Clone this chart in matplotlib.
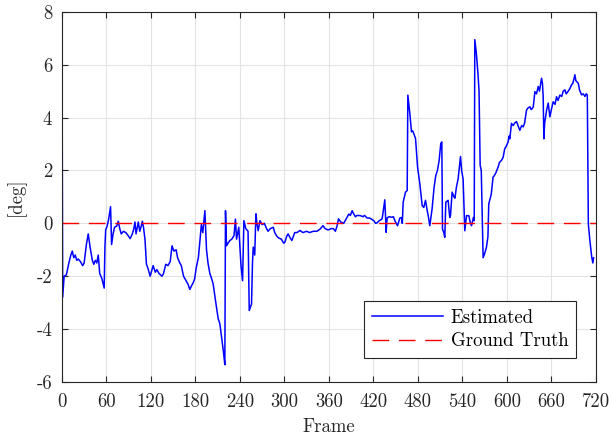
import matplotlib
matplotlib.use("Agg")
import matplotlib.pyplot as plt
import numpy as np

plt.rcParams['font.family'] = 'serif'
plt.rcParams['font.serif'] = ['cmr10', 'DejaVu Serif']
plt.rcParams['mathtext.fontset'] = 'cm'
plt.rcParams['axes.unicode_minus'] = False
plt.rcParams['font.size'] = 13.5

# estimated heading
frames = [0, 1, 3, 6, 9, 12, 14, 16, 18, 20, 22, 25, 28, 30, 33, 35.5, 38, 41, 43, 45, 47, 49, 51, 54, 57,
          58, 59, 61, 63, 65.6, 67, 69, 71, 74, 76, 78, 80, 83, 86, 89, 92, 95, 97, 98.5, 100, 102, 103, 105,
          107, 108.5, 110, 112, 114, 116, 119, 121, 123, 126, 128, 131, 135, 137, 140, 143, 146, 148.5, 151,
          154, 156, 159, 161, 164, 167, 170, 172.5, 175, 177, 179, 181, 184, 186, 188, 190, 192.8, 194, 195,
          197, 199.5, 202, 204, 207, 210.7, 213, 215.3, 218, 219.7, 220.6, 222, 224, 226.5, 229, 232, 234,
          235.5, 238.5, 240, 241.5, 243.6, 245.4, 248, 251, 252.6, 255.7, 257, 258, 260, 261.6, 263, 264.7,
          267, 270, 273, 276, 278, 281, 285, 287, 289.4, 292, 296, 299, 300.6, 303, 305, 307.4, 310, 314,
          317, 321, 325, 330, 334, 339, 344, 348, 352, 355, 359, 363, 366, 368.8, 371, 373, 376, 380, 383,
          386.9, 389, 391.4, 393, 395.8, 398, 402.6, 406, 408, 411.6, 415, 418, 420.6, 423, 425, 428, 431.8,
          433, 435.4, 436.5, 437.2, 438.5, 441, 445, 447, 449, 452.6, 455.7, 458, 459, 460.2, 463.3, 465.6,
          466.5, 469.2, 471.4, 473, 474.6, 476.9, 479.6, 482.7, 485.8, 488, 490.3, 492.5, 494.5, 496.1,
          499.2, 501.9, 504.2, 506.4, 508.7, 510.9, 512.3, 513.2, 515, 516.3, 517.7, 520.8, 523, 524, 526.2,
          528.9, 530, 532, 534.3, 537.5, 539, 541, 543.3, 545.6, 548.7, 550.5, 552.3, 555, 556, 556.8, 559,
          561.2, 562.5, 564, 565.5, 568, 570, 572.5, 574.5, 575.6, 578, 579, 581.4, 583, 585, 588.2, 590,
          592.7, 595, 597.2, 599, 601.7, 603, 604, 606.2, 608.5, 610.7, 613, 615, 617.5, 620, 622, 624,
          626.5, 628, 631, 633, 635.6, 637.8, 640, 642.3, 644, 646.8, 648, 649, 649.9, 651, 653.6, 655.8,
          658, 660, 662.5, 665, 667, 669, 671.5, 674, 676, 678.3, 680, 682.8, 685, 687.3, 689, 691.8, 693,
          696.3, 698, 700.8, 703, 705.3, 707, 708.5, 709.9, 712, 714.5, 716, 717]
estimated = [8.0, -2.8, -2.0, -1.95, -1.55, -1.2, -1.05, -1.3, -1.2, -1.4, -1.35, -1.45, -1.6, -1.5, -0.8,
             -0.4, -0.9, -1.4, -1.55, -1.4, -1.5, -1.2, -1.9, -2.1, -2.45,
             -0.9, -0.25, -0.1, 0.15, 0.63, -0.8, -0.4, -0.15, -0.1, 0.08, -0.2, -0.4, -0.3, -0.35, -0.45,
             -0.58, -0.4, -0.2, 0.05, -0.4, -0.1, 0.05, -0.3,
             -0.1, 0.08, -0.15, -0.6, -1.55, -1.7, -2.0, -1.8, -1.6, -1.85, -1.75, -1.9, -2.0, -1.9, -1.55,
             -1.6, -1.45, -0.85, -1.05,
             -1.0, -1.3, -1.5, -1.6, -2.0, -2.15, -2.3, -2.5, -2.35, -2.25, -2.1, -1.7, -1.3, -0.7, -0.05,
             -0.35, 0.48, -0.3, -1.0,
             -1.5, -1.9, -2.1, -2.3, -2.9, -3.6, -3.8, -4.3, -4.9, -5.35, 0.48, -0.85, -0.75, -0.65, -0.6,
             -0.47, 0.16,
             -0.6, -0.15, -0.9, -1.6, -2.17, 0.1, -0.2, -0.3, -3.3, -3.05, -1.5, -0.9, -1.2, 0.36, 0.0, -0.28,
             0.1, -0.05, 0.0, -0.2, -0.3, -0.2, -0.15, -0.35, -0.47, -0.55, -0.6, -0.75, -0.72, -0.5, -0.4,
             -0.53, -0.65, -0.35,
             -0.35, -0.27, -0.35, -0.3, -0.35, -0.3, -0.3, -0.22, -0.09, -0.2, -0.25, -0.2, -0.2, -0.3, -0.1,
             0.17, 0.05, 0.0, 0.15,
             0.35, 0.3, 0.48, 0.38, 0.25, 0.3, 0.29, 0.25, 0.3, 0.2, 0.2, 0.15, 0.1, 0.0, 0.02, 0.1, 0.17,
             0.4, 0.89, 0.2, -0.34, 0.2, 0.25, 0.23, 0.25, 0.1, -0.09, 0.2, 0.22, 0.0, 0.8, 1.18, 1.24,
             4.85, 4.15, 3.46, 3.5, 3.39, 3.2, 2.13, 1.49, 0.67, 0.6, 0.87, 0.5, 0.2, -0.09,
             0.55, 1.37, 1.81, 2.0, 2.38, 3.02, 3.08, -0.22, -0.35, -0.53, 0.8, 0.87, 0.22, 0.3, 1.18,
             0.99, 0.95, 1.37, 1.68, 2.53, 2.0, 1.68, -0.28, 0.29, 0.29, 0.05, -0.09, 0.22, 0.1, 6.95, 6.4,
             5.6, 5.0, 2.2, 2.0, -1.3, -1.15, -0.9, -0.5, 0.73, 1.0, 1.11, 1.75, 1.8, 1.9, 2.13, 2.3,
             2.38, 2.5, 2.83, 2.9, 3.08, 3.3, 3.2, 3.78, 3.7, 3.8, 3.85, 3.7, 3.52, 3.7, 3.65, 3.8,
             4.28, 4.35, 4.41, 4.3, 4.4, 4.98, 4.9, 5.18, 5.0, 5.49, 5.3, 4.79, 3.2, 3.8, 4.28, 4.55,
             4.03, 4.3, 4.6, 4.5, 4.79, 4.65, 4.85, 4.8, 5.0, 5.05, 4.9, 5.0, 5.1, 5.24, 5.3, 5.62, 5.4,
             5.3, 5.05, 4.86, 4.9, 4.8, 4.9, 4.86, -0.03, -0.66, -1.29, -1.5, -1.3]
truth_frames = [0, 720]
truth = [0, 0]

fig = plt.figure(figsize=(6.13, 4.4), dpi=100)
ax = fig.add_axes([0.101, 0.132, 0.871, 0.841])

ax.plot(frames, estimated, color='#0000ff', lw=1.1, label='Estimated')
ax.plot(truth_frames, truth, color='#ff0000', lw=1.0, dashes=(12, 7), label='Ground Truth')

ax.set_xlim(0, 720)
ax.set_ylim(-6, 8)
ax.set_xticks(np.arange(0, 721, 60))
ax.set_yticks(np.arange(-6, 9, 2))
ax.grid(True, color='#e3e3e3', lw=0.8)
ax.set_axisbelow(True)
ax.tick_params(direction='in', top=True, right=True, length=4, width=0.8, colors='#262626',
               labelcolor='#262626')
ax.tick_params(axis='x', pad=8)
ax.tick_params(axis='y', pad=7)
for s in ax.spines.values():
    s.set_color('#262626')
    s.set_linewidth(0.8)

ax.set_xlabel('Frame', color='#262626', labelpad=5)
ax.set_ylabel('[deg]', color='#262626', labelpad=8)

leg = ax.legend(loc='lower right', bbox_to_anchor=(0.9625, 0.065), fancybox=False, framealpha=1,
                edgecolor='#262626', handlelength=3.8, borderpad=0.4, labelspacing=0.3,
                handletextpad=0.4, borderaxespad=0, fontsize=13.5)
leg.get_frame().set_linewidth(0.8)

fig.savefig('out.png', dpi=100)
